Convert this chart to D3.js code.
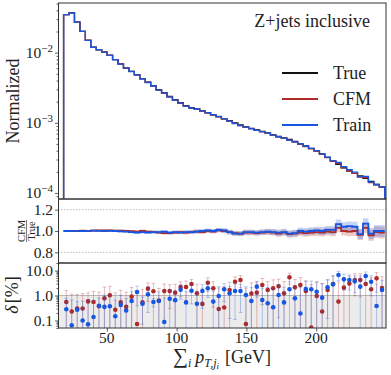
<!DOCTYPE html>
<html>
<head>
<meta charset="utf-8">
<script src="https://cdn.jsdelivr.net/npm/d3@7"></script>
<style>
  body { margin: 0; background: #fff; }
  svg { display: block; font-family: "Liberation Serif", "DejaVu Serif", serif; }
</style>
</head>
<body>
<svg id="chart" width="391" height="375"></svg>
<script>
// histogram binning (GeV)
const binStart = 19, binStep = 3.9;

// normalized distribution of the truth sample
const trueHist = [0.0349, 0.0369, 0.0271, 0.0201, 0.0150, 0.0119, 0.0110, 0.0102, 0.00915, 0.00794,
  0.00690, 0.00604, 0.00541, 0.00485, 0.00425, 0.00381, 0.00338, 0.00296, 0.00268, 0.00238,
  0.00213, 0.00193, 0.00175, 0.00164, 0.00158, 0.00148, 0.00139, 0.00130, 0.00122, 0.00114,
  0.00107, 0.00100, 0.000936, 0.000877, 0.000835, 0.000794, 0.000756, 0.000720, 0.000674, 0.000642,
  0.000611, 0.000581, 0.000544, 0.000501, 0.000469, 0.000432, 0.000398, 0.000361, 0.000321, 0.000286,
  0.000255, 0.000228, 0.000206, 0.000190, 0.000175, 0.000161, 0.000146, 0.000132, 0.000122];

// ratios to truth
const ratioCFM = [1.0, 1.002, 1.0, 1.003, 1.002, 1.004, 1.005, 1.005, 1.006, 1.004, 1.003,
  1.0, 0.998, 0.995, 1.0, 0.995, 0.99,
  0.985, 0.98, 0.98, 0.985, 0.99, 0.985, 0.99,
  0.995, 0.99, 1.0, 0.995,
  1.005, 1.0, 0.99, 0.98,
  0.975, 0.985, 0.985, 0.98, 0.985, 0.99, 0.985, 0.975, 0.985,
  0.97, 0.975,
  0.985, 0.98, 0.985, 0.99, 0.985, 0.995, 0.99,
  1.03, 1.0, 0.995, 1.0, 0.965, 1.03, 0.96, 0.99, 0.985];
const ratioTrain = [1.0, 0.998, 1.002, 1.0, 0.998, 1.003, 1.001, 0.999, 1.002, 1.0, 0.997,
  0.995, 0.99, 0.985, 0.99, 0.985, 0.99,
  0.99, 0.995, 0.985, 0.99, 0.985, 0.99, 0.99,
  0.995, 1.0, 1.005, 1.0,
  1.01, 1.005, 0.99, 0.975,
  0.975, 0.99, 0.99, 0.985, 0.99, 0.995, 0.99, 0.985, 0.99,
  0.975, 0.98,
  1.0, 0.995, 1.0, 1.005, 1.0, 1.01, 1.01,
  1.065, 1.04, 1.045, 1.04, 0.97, 1.07, 0.975, 1.0, 1.0];
const ratioErr = [0.006, 0.006, 0.007, 0.007, 0.008, 0.008, 0.009, 0.009, 0.010, 0.010,
  0.011, 0.011, 0.012, 0.012, 0.013, 0.013, 0.014, 0.014, 0.015, 0.015,
  0.016, 0.016, 0.017, 0.017, 0.018, 0.018, 0.019, 0.019, 0.020, 0.021,
  0.022, 0.022, 0.023, 0.024, 0.025, 0.025, 0.026, 0.027, 0.028, 0.029,
  0.030, 0.031, 0.032, 0.033, 0.034, 0.035, 0.036, 0.037, 0.038, 0.040,
  0.042, 0.043, 0.045, 0.046, 0.048, 0.050, 0.052, 0.054, 0.056];

// relative deviation in percent, with uncertainties
const deltaCFM = [0.55, 0.23, 0.30, 0.30, 0.58, 0.55, 0.37, 0.77, 1.02, 0.27, 0.53, 0.35, 0.90, 0.072,
  0.53, 1.88, 1.47, 0.63, 1.50, 1.50, 1.30, 2.19, 2.19,
  2.88, 1.22, 0.46, 3.26, 1.94, 0.29, 0.33, 1.66, 3.57, 4.17, 0.072, 1.2, 1.30, 2.63, 1.66,
  1.94, 2.33, 1.22, 5.33, 2.12, 2.63, 1.5, 0.052, 0.95, 0.23, 1.66, 2.88, 0.57, 2.06, 3.0,
  4.17, 4.17, 2.88, 1.77, 4.86, 2.0];
const deltaTrain = [0.28, 0.064, 0.27, 0.10, 0.070, 0.138, 0.39, 0.35, 0.37, 0.147, 0.42, 0.25, 0.60, 1.38,
  0.47, 1.11, 0.55, 0.60, 0.087, 0.74, 0.65, 1.71, 0.53,
  1.56, 0.47, 1.51, 1.94, 0.57, 0.95, 1.77, 1.22, 1.51, 1.51, 1.05, 0.60, 2.26, 0.66, 0.49,
  0.34, 1.05, 0.53, 1.77, 0.77, 0.19, 1.82, 1.77, 1.42, 0.82, 2.12, 2.80, 6.61, 4.43, 4.17,
  3.69, 2.26, 6.03, 3.57, 0.38, 1.66];
const errCFM = [1.05, 0.9, 0.8, 0.9, 0.7, 0.9, 1.0, 1.4, 1.3, 1.0, 1.1, 1.0, 1.2, 1.4,
  1.2, 1.3, 1.5, 1.3, 1.4, 1.2, 1.5, 1.3, 1.6,
  1.5, 1.6, 1.5, 1.8, 1.6, 1.7, 1.9, 1.7, 2.0, 2.1, 1.9, 2.0, 2.1, 2.2, 2.0, 2.3, 2.2, 2.4,
  2.5, 2.3, 2.6, 2.4, 2.7, 2.6, 2.8, 2.7, 3.0, 2.9, 3.1, 3.0, 3.2, 3.3, 3.1, 3.4, 3.5, 3.6];
const errTrain = [0.5, 0.6, 0.3, 0.5, 0.6, 0.5, 0.4, 0.7, 0.6, 0.5, 0.6, 0.5, 0.8, 1.0,
  0.4, 0.9, 0.2, 0.8, 0.7, 0.9, 0.8, 1.0, 0.9,
  1.1, 1.0, 1.2, 1.1, 0.9, 1.3, 1.2, 1.1, 1.4, 1.3, 1.2, 1.5, 1.4, 1.3, 1.6, 1.5, 1.7, 1.6,
  1.8, 1.7, 1.9, 1.8, 2.0, 1.9, 2.1, 2.0, 3.5, 2.6, 2.8, 2.5, 2.4, 3.8, 2.7, 2.6, 2.5, 2.4];

const xTicks = [50, 100, 150, 200];
const histTicks = [1e-4, 1e-3, 1e-2];
const histExps = ['\u22124', '\u22123', '\u22122'];
const ratioTicks = [0.8, 1.0, 1.2];
const deltaTicks = [0.1, 1, 10];
const deltaLabels = ['0.1', '1.0', '10.0'];
const legendNames = ['True', 'CFM', 'Train'];
const colors = {True: '#111111', CFM: '#b02a2a', Train: '#1656e0'};

const left = 58, right = 386;
const topP = [3, 199], midP = [199, 263], botP = [263, 328];

const svg = d3.select('#chart');
const edges = d3.range(trueHist.length + 1).map(i => binStart + i * binStep);
const centers = trueHist.map((_, i) => binStart + (i + 0.5) * binStep);

const x = d3.scaleLinear().domain([15, 250]).range([left, right]);
const yHist = d3.scaleLog().domain([8.2e-5, 0.051]).range([topP[1], topP[0]]);
const yRatio = d3.scaleLinear().domain([0.7, 1.3]).range([midP[1], midP[0]]);
const yDelta = d3.scaleLog().domain([0.05, 20]).range([botP[1], botP[0]]);

// clip paths for each panel
const defs = svg.append('defs');
[['clip-top', topP], ['clip-mid', midP], ['clip-bot', botP]].forEach(([id, p]) => {
    defs.append('clipPath').attr('id', id)
        .append('rect').attr('x', left).attr('y', p[0]).attr('width', right - left).attr('height', p[1] - p[0]);
});

// ---- top panel: histograms
const cfmHist = trueHist.map((v, i) => v * ratioCFM[i]);
const trainHist = trueHist.map((v, i) => v * ratioTrain[i]);
const floorVal = yHist.domain()[0];

function histPoints(vals) {
    const pts = [[edges[0], floorVal]];
    vals.forEach((v, i) => pts.push([edges[i], v]));
    pts.push([edges[vals.length], vals[vals.length - 1]]);
    pts.push([edges[vals.length], floorVal]);
    return pts;
}
const histLine = d3.line().x(d => x(d[0])).y(d => yHist(d[1])).curve(d3.curveStepAfter);

const topG = svg.append('g').attr('clip-path', 'url(#clip-top)');
[['True', trueHist], ['CFM', cfmHist], ['Train', trainHist]].forEach(([name, vals]) => {
    topG.append('path')
        .attr('d', histLine(histPoints(vals)))
        .attr('fill', 'none')
        .attr('stroke', colors[name])
        .attr('stroke-width', 1.3);
});

// ---- middle panel: ratios
const midG = svg.append('g').attr('clip-path', 'url(#clip-mid)');
ratioTicks.filter(t => t !== 1.0).forEach(t => {
    midG.append('line')
        .attr('x1', left).attr('x2', right)
        .attr('y1', yRatio(t)).attr('y2', yRatio(t))
        .attr('stroke', '#aaa').attr('stroke-width', 0.8)
        .attr('stroke-dasharray', '1.5,1.5');
});

function stepPts(vals) {
    const pts = vals.map((v, i) => [edges[i], v, i]);
    pts.push([edges[vals.length], vals[vals.length - 1], vals.length - 1]);
    return pts;
}
const ratioLine = d3.line().x(d => x(d[0])).y(d => yRatio(d[1])).curve(d3.curveStepAfter);
const ratioBand = d3.area().x(d => x(d[0]))
    .y0(d => yRatio(d[1] - ratioErr[d[2]]))
    .y1(d => yRatio(d[1] + ratioErr[d[2]]))
    .curve(d3.curveStepAfter);

[['CFM', ratioCFM, 'rgba(176,42,42,0.25)'], ['Train', ratioTrain, 'rgba(22,86,224,0.25)']].forEach(([name, vals, fill]) => {
    midG.append('path').attr('d', ratioBand(stepPts(vals))).attr('fill', fill);
});
[['CFM', ratioCFM], ['Train', ratioTrain]].forEach(([name, vals]) => {
    midG.append('path')
        .attr('d', ratioLine(stepPts(vals)))
        .attr('fill', 'none')
        .attr('stroke', colors[name])
        .attr('stroke-width', 1.8);
});

// ---- bottom panel: delta [%]
const botG = svg.append('g').attr('clip-path', 'url(#clip-bot)');
botG.append('rect')
    .attr('x', left).attr('width', right - left)
    .attr('y', yDelta(1)).attr('height', botP[1] - yDelta(1))
    .attr('fill', '#ececec');
botG.append('line')
    .attr('x1', left).attr('x2', right)
    .attr('y1', yDelta(1)).attr('y2', yDelta(1))
    .attr('stroke', '#aaa').attr('stroke-width', 0.8);

const dMin = yDelta.domain()[0];
[['CFM', deltaCFM, errCFM, 'rgba(176,42,42,0.3)'], ['Train', deltaTrain, errTrain, 'rgba(22,86,224,0.3)']].forEach(([name, vals, errs, ecol]) => {
    const g = botG.append('g');
    vals.forEach((v, i) => {
        const cx = x(centers[i]);
        const hi = v + errs[i];
        const lo = v - errs[i];
        const yLo = lo > dMin ? yDelta(lo) : botP[1] + 1;
        g.append('line')
            .attr('x1', cx).attr('x2', cx)
            .attr('y1', yDelta(hi)).attr('y2', yLo)
            .attr('stroke', ecol).attr('stroke-width', 1);
        g.append('line')
            .attr('x1', cx - 1.8).attr('x2', cx + 1.8)
            .attr('y1', yDelta(hi)).attr('y2', yDelta(hi))
            .attr('stroke', ecol).attr('stroke-width', 1);
        if (lo > dMin) {
            g.append('line')
                .attr('x1', cx - 1.8).attr('x2', cx + 1.8)
                .attr('y1', yLo).attr('y2', yLo)
                .attr('stroke', ecol).attr('stroke-width', 1);
        }
    });
    g.selectAll('circle.pt')
        .data(vals)
        .enter()
        .append('circle')
        .attr('class', 'pt')
        .attr('cx', (_, i) => x(centers[i]))
        .attr('cy', d => yDelta(d))
        .attr('r', 2.3)
        .attr('fill', colors[name]);
});

// ---- frames
[topP, midP, botP].forEach(p => {
    svg.append('rect')
        .attr('x', left + 0.5).attr('y', p[0])
        .attr('width', right - left - 0.5).attr('height', p[1] - p[0])
        .attr('fill', 'none')
        .attr('stroke', '#333').attr('stroke-width', 1);
});

// ---- axes
function minorLog(scale) {
    const [a, b] = scale.domain();
    const out = [];
    for (let e = Math.floor(Math.log10(a)); e <= Math.ceil(Math.log10(b)); e++) {
        for (let m = 2; m <= 9; m++) {
            const v = m * Math.pow(10, e);
            if (v >= a && v <= b) out.push(v);
        }
    }
    return out;
}

function leftTicks(scale, major, minor) {
    const gMin = svg.append('g').attr('transform', 'translate(' + (left + 0.5) + ',0)')
        .call(d3.axisLeft(scale).tickValues(minor).tickSize(2).tickFormat(''));
    const gMaj = svg.append('g').attr('transform', 'translate(' + (left + 0.5) + ',0)')
        .call(d3.axisLeft(scale).tickValues(major).tickSize(3.5).tickFormat(''));
    [gMin, gMaj].forEach(g => {
        g.select('.domain').remove();
        g.selectAll('line').attr('stroke', '#333').attr('stroke-width', 0.8);
    });
}
leftTicks(yHist, histTicks, minorLog(yHist));
leftTicks(yRatio, ratioTicks, []);
leftTicks(yDelta, deltaTicks, minorLog(yDelta));

const tickFont = 15.5;
histTicks.forEach((t, i) => {
    const tx = svg.append('text')
        .attr('x', 53).attr('y', yHist(t) + 5.5)
        .attr('text-anchor', 'end')
        .attr('font-size', tickFont)
        .attr('fill', '#222');
    tx.append('tspan').text('10');
    tx.append('tspan').attr('dy', -6.5).attr('font-size', 11).text(histExps[i]);
});
ratioTicks.forEach(t => {
    svg.append('text')
        .attr('x', 53).attr('y', yRatio(t) + 5.2)
        .attr('text-anchor', 'end')
        .attr('font-size', tickFont)
        .attr('fill', '#222')
        .text(t.toFixed(1));
});
deltaTicks.forEach((t, i) => {
    svg.append('text')
        .attr('x', 53).attr('y', yDelta(t) + 5.2)
        .attr('text-anchor', 'end')
        .attr('font-size', tickFont)
        .attr('fill', '#222')
        .text(deltaLabels[i]);
});

const xAx = svg.append('g').attr('transform', 'translate(0,' + botP[1] + ')')
    .call(d3.axisBottom(x).tickValues(xTicks).tickSize(3.5).tickFormat(''));
xAx.select('.domain').remove();
xAx.selectAll('line').attr('stroke', '#333').attr('stroke-width', 0.8);
xTicks.forEach(t => {
    svg.append('text')
        .attr('x', x(t)).attr('y', 343)
        .attr('text-anchor', 'middle')
        .attr('font-size', tickFont)
        .attr('fill', '#222')
        .text(t);
});

// ---- labels
svg.append('text')
    .attr('transform', 'translate(18.5,101) rotate(-90)')
    .attr('text-anchor', 'middle')
    .attr('font-size', 18)
    .attr('fill', '#222')
    .text('Normalized');

const frac = svg.append('g').attr('transform', 'translate(26.5,231) rotate(-90)');
frac.append('text').attr('y', -1.8).attr('text-anchor', 'middle').attr('font-size', 10.5).attr('fill', '#222').text('CFM');
frac.append('line').attr('x1', -11).attr('x2', 11).attr('stroke', '#222').attr('stroke-width', 0.6);
frac.append('text').attr('y', 8.5).attr('text-anchor', 'middle').attr('font-size', 10.5).attr('fill', '#222').text('True');

const dl = svg.append('text')
    .attr('transform', 'translate(18,295) rotate(-90)')
    .attr('text-anchor', 'middle')
    .attr('font-size', 18)
    .attr('fill', '#222');
dl.append('tspan').attr('font-style', 'italic').text('\u03b4');
dl.append('tspan').attr('dx', 2).text('[%]');

const xl = svg.append('text')
    .attr('x', (left + right) / 2).attr('y', 363)
    .attr('text-anchor', 'middle')
    .attr('font-size', 18)
    .attr('fill', '#222');
xl.append('tspan').attr('font-size', 21).text('\u2211');
xl.append('tspan').attr('font-style', 'italic').attr('font-size', 12).attr('dy', 4).text('i');
xl.append('tspan').attr('font-style', 'italic').attr('dy', -4).attr('dx', 4).text('p');
xl.append('tspan').attr('font-style', 'italic').attr('font-size', 12).attr('dy', 4).text('T,j');
xl.append('tspan').attr('font-style', 'italic').attr('font-size', 9).attr('dy', 2).text('i');
xl.append('tspan').attr('dy', -6).attr('dx', 6).text('[GeV]');

svg.append('text')
    .attr('x', 370).attr('y', 27)
    .attr('text-anchor', 'end')
    .attr('font-size', 18)
    .attr('fill', '#222')
    .text('Z+jets inclusive');

// legend
legendNames.forEach((name, i) => {
    const ly = 73 + i * 26;
    svg.append('line')
        .attr('x1', 282).attr('x2', 318)
        .attr('y1', ly).attr('y2', ly)
        .attr('stroke', colors[name]).attr('stroke-width', 2);
    svg.append('text')
        .attr('x', 333).attr('y', ly + 6)
        .attr('font-size', 18)
        .attr('fill', '#222')
        .text(name);
});
</script>
</body>
</html>
